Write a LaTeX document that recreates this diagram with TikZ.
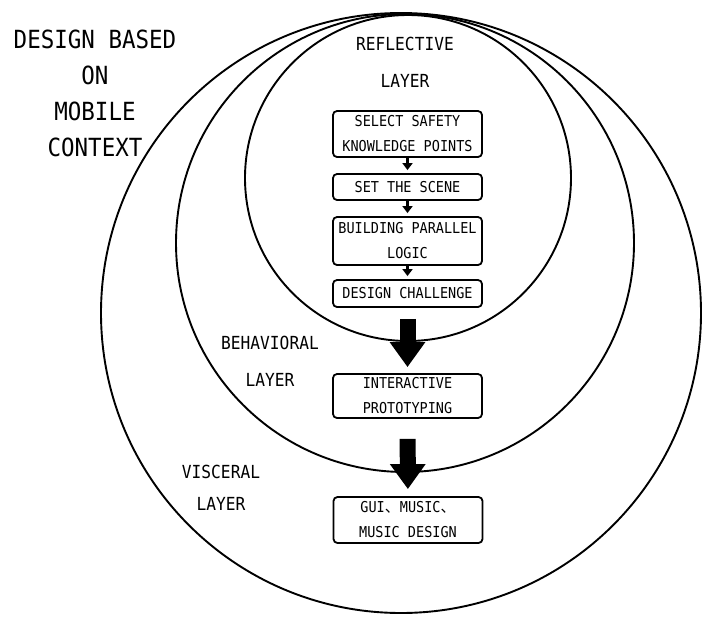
\documentclass[tikz,border=0pt]{standalone}
\usepackage{fontspec}
\newfontfamily\lab[FakeStretch=0.9]{DejaVu Sans Mono}
\newfontfamily\cjk{Noto Sans CJK SC}
\usetikzlibrary{arrows.meta}
\tikzset{
  ring/.style={draw, line width=1.9pt},
  stepbox/.style={draw, line width=1.8pt, rounded corners=4pt, fill=white,
    minimum width=149pt, inner sep=2pt, align=center,
    font=\lab\fontsize{15}{25}\selectfont},
  smallarrow/.style={line width=3pt, -{Triangle[width=10pt,length=7pt]}, shorten >=3pt},
  bigarrow/.style={line width=16pt, -{Triangle[width=34pt,length=25pt]}},
  layertext/.style={align=center, font=\lab\fontsize{18}{37}\selectfont},
}
\begin{document}
\begin{tikzpicture}[x=1pt,y=-1pt]
\useasboundingbox (0,0) rectangle (702,619);
% layer circles
\draw[ring] (401,313) circle[radius=300pt];
\draw[ring] (405,243) circle[radius=229pt];
\draw[ring] (408,178) circle[radius=163pt];
% labels
\node[align=center, font=\lab\fontsize{25}{36}\selectfont] (title) at (95,93) {DESIGN BASED\\ON\\MOBILE\\CONTEXT};
\node[layertext] (refl) at (405,62) {REFLECTIVE\\LAYER};
\node[layertext] (beh) at (270,361) {BEHAVIORAL\\LAYER};
\node[layertext, font=\lab\fontsize{18}{32}\selectfont] (visc) at (221,488) {VISCERAL\\LAYER};
% boxes
\node[stepbox, minimum height=46pt] (b1) at (407.5,134) {SELECT SAFETY\\KNOWLEDGE POINTS};
\node[stepbox, minimum height=26pt] (b2) at (407.5,187) {SET THE SCENE};
\node[stepbox, minimum height=48pt] (b3) at (407.5,241) {BUILDING PARALLEL\\LOGIC};
\node[stepbox, minimum height=27pt] (b4) at (407.5,293.5) {DESIGN CHALLENGE};
\node[stepbox, minimum height=44pt] (b5) at (407.5,396) {INTERACTIVE\\PROTOTYPING};
\node[stepbox, minimum height=46pt] (b6) at (408,520) {GUI{\cjk 、}MUSIC{\cjk 、}\\MUSIC DESIGN};
% arrows
\draw[smallarrow] (b1) -- (b2);
\draw[smallarrow] (b2) -- (b3);
\draw[smallarrow] (b3) -- (b4);
\draw[bigarrow, shorten <=11pt, shorten >=6pt] (b4) -- (b5);
\draw[bigarrow, shorten <=20pt, shorten >=7pt] (b5) -- (b6);
\end{tikzpicture}
\end{document}
